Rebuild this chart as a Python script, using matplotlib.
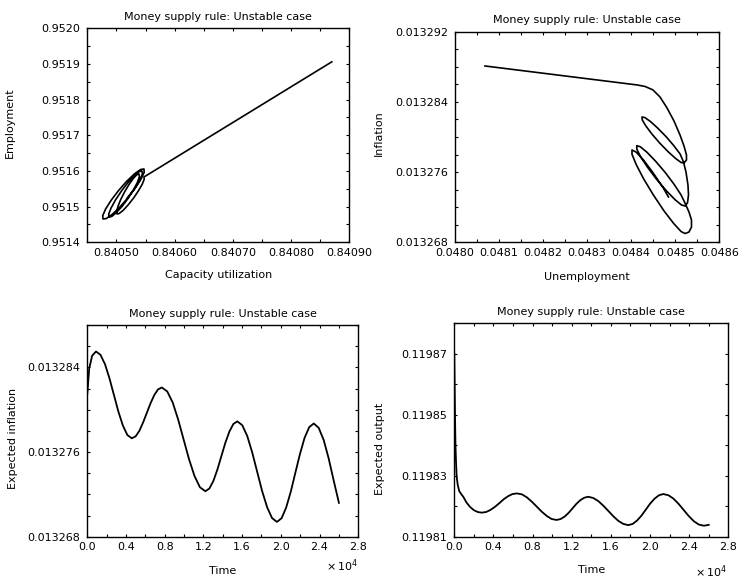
import matplotlib
matplotlib.use('Agg')
import matplotlib.pyplot as plt
from matplotlib.ticker import FixedLocator, FormatStrFormatter

plt.rcParams['font.family'] = ['DejaVu Sans']
plt.rcParams['font.size'] = 8

TITLE = 'Money supply rule: Unstable case'

# ---------------- Panel 1: employment vs capacity utilization ----------------
capacity_utilization = [
    0.840870, 0.8405474,
    0.8405477, 0.8405445, 0.8405381, 0.8405297, 0.8405204, 0.8405117, 0.8405049, 0.8405010,
    0.8405003, 0.8405027, 0.8405075, 0.8405144, 0.8405221, 0.8405294, 0.8405352, 0.8405388,
    0.8405395, 0.8405361, 0.8405292, 0.8405199, 0.8405096, 0.8404996, 0.8404919, 0.8404873,
    0.8404868, 0.8404907, 0.8404984, 0.8405087, 0.8405201, 0.8405307, 0.8405391, 0.8405440,
    0.8405446, 0.8405400, 0.8405309, 0.8405187, 0.8405053, 0.8404926, 0.8404826, 0.8404770,
    0.8404765, 0.8404814, 0.8404911, 0.8405039, 0.8405180, 0.8405312, 0.8405416, 0.8405474,
    0.8405477, 0.8405422, 0.8405317, 0.8405179,
]
employment = [
    0.951906, 0.9515831,
    0.9515767, 0.9515632, 0.9515450, 0.9515245, 0.9515052, 0.9514897, 0.9514808, 0.9514794,
    0.9514861, 0.9515007, 0.9515203, 0.9515422, 0.9515632, 0.9515797, 0.9515898, 0.9515915,
    0.9515837, 0.9515680, 0.9515467, 0.9515228, 0.9515004, 0.9514827, 0.9514723, 0.9514709,
    0.9514791, 0.9514956, 0.9515186, 0.9515438, 0.9515680, 0.9515870, 0.9515982, 0.9515999,
    0.9515910, 0.9515730, 0.9515489, 0.9515225, 0.9514976, 0.9514780, 0.9514666, 0.9514653,
    0.9514746, 0.9514931, 0.9515181, 0.9515455, 0.9515716, 0.9515921, 0.9516041, 0.9516055,
    0.9515960, 0.9515769, 0.9515511, 0.9515225,
]
cu_major = [0.84050, 0.84060, 0.84070, 0.84080, 0.84090]
cu_minor = [0.84045, 0.84055, 0.84065, 0.84075, 0.84085]
emp_major = [0.9514, 0.9515, 0.9516, 0.9517, 0.9518, 0.9519, 0.9520]
emp_minor = [0.95145, 0.95155, 0.95165, 0.95175, 0.95185, 0.95195]

# ---------------- Panel 2: inflation vs unemployment ----------------
unemployment = [
    0.0480681, 0.0484132, 0.0484313, 0.0484495, 0.0484654, 0.0484813,
    0.0484972, 0.0485108, 0.0485199, 0.0485255, 0.0485255, 0.0485199,
    0.0485133, 0.0485006, 0.0484835, 0.0484647, 0.0484470, 0.0484331,
    0.0484252, 0.0484245,
    0.0484311, 0.0484438, 0.0484608, 0.0484797, 0.0484974, 0.0485112,
    0.0485187, 0.0485244, 0.0485289, 0.0485301, 0.0485278, 0.0485221,
    0.0485142, 0.0484992, 0.0484794, 0.0484574, 0.0484374, 0.0484216,
    0.0484129, 0.0484125,
    0.0484204, 0.0484354, 0.0484552, 0.0484772, 0.0484972, 0.0485130,
    0.0485221, 0.0485312, 0.0485369, 0.0485369, 0.0485312, 0.0485221,
    0.0485132, 0.0484965, 0.0484742, 0.0484504, 0.0484281, 0.0484113,
    0.0484019, 0.0484018,
    0.0484108, 0.0484277, 0.0484497, 0.0484735, 0.0484847,
]
inflation = [
    0.01328809, 0.01328593, 0.01328576, 0.01328536, 0.01328456, 0.01328331,
    0.01328182, 0.01328023, 0.01327897, 0.01327795, 0.01327738, 0.01327704,
    0.01327709, 0.01327756, 0.01327834, 0.01327931, 0.01328034, 0.01328127,
    0.01328194, 0.01328228,
    0.01328221, 0.01328176, 0.01328098, 0.01328001, 0.01327897, 0.01327805,
    0.01327715, 0.01327601, 0.01327453, 0.01327339, 0.01327248, 0.01327214,
    0.01327225, 0.01327287, 0.01327390, 0.01327519, 0.01327653, 0.01327772,
    0.01327860, 0.01327901,
    0.01327889, 0.01327828, 0.01327725, 0.01327596, 0.01327462, 0.01327342,
    0.01327248, 0.01327145, 0.01327054, 0.01326974, 0.01326917, 0.01326900,
    0.01326923, 0.01327014, 0.01327160, 0.01327339, 0.01327524, 0.01327687,
    0.01327802, 0.01327852,
    0.01327829, 0.01327739, 0.01327592, 0.01327413, 0.01327316,
]
u_major = [0.0480, 0.0481, 0.0482, 0.0483, 0.0484, 0.0485, 0.0486]
u_minor = [0.04805, 0.04815, 0.04825, 0.04835, 0.04845, 0.04855]
inf_major = [0.013268, 0.013276, 0.013284, 0.013292]
inf_minor = [0.013270, 0.013272, 0.013274, 0.013278, 0.013280, 0.013282,
             0.013286, 0.013288, 0.013290]

# ---------------- Panel 3: expected inflation vs time (x 10^4) ----------------
time_ei = [
    0.00, 0.02, 0.05, 0.09, 0.136, 0.183, 0.229, 0.275, 0.321, 0.368, 0.414,
    0.46, 0.499, 0.538, 0.576, 0.615, 0.654, 0.693, 0.731, 0.77, 0.826, 0.883,
    0.939, 0.995, 1.051, 1.108, 1.164, 1.22, 1.261, 1.303, 1.344, 1.385, 1.426,
    1.468, 1.509, 1.55, 1.601, 1.653, 1.704, 1.755, 1.806, 1.858, 1.909, 1.96,
    2.008, 2.055, 2.103, 2.15, 2.198, 2.245, 2.293, 2.34, 2.391, 2.443, 2.494,
    2.545, 2.60,
]
expected_inflation = [
    0.01328150, 0.01328390, 0.01328510, 0.01328550, 0.01328519, 0.01328430,
    0.01328297, 0.01328140, 0.01327983, 0.01327850, 0.01327761, 0.01327730,
    0.01327748, 0.01327800, 0.01327878, 0.01327970, 0.01328062, 0.01328140,
    0.01328192, 0.01328210, 0.01328173, 0.01328067, 0.01327907, 0.01327720,
    0.01327533, 0.01327373, 0.01327267, 0.01327230, 0.01327255, 0.01327327,
    0.01327434, 0.01327560, 0.01327686, 0.01327793, 0.01327865, 0.01327890,
    0.01327854, 0.01327751, 0.01327597, 0.01327415, 0.01327233, 0.01327079,
    0.01326976, 0.01326940, 0.01326975, 0.01327076, 0.01327227, 0.01327405,
    0.01327583, 0.01327734, 0.01327835, 0.01327870, 0.01327829, 0.01327713,
    0.01327540, 0.01327335, 0.01327120,
]
time_major = [0.0, 0.4, 0.8, 1.2, 1.6, 2.0, 2.4, 2.8]
time_minor = [0.2, 0.6, 1.0, 1.4, 1.8, 2.2, 2.6]
ei_major = [0.013268, 0.013276, 0.013284]
ei_minor = [0.013270, 0.013272, 0.013274, 0.013278, 0.013280, 0.013282,
            0.013286, 0.013288]

# ---------------- Panel 4: expected output vs time (x 10^4) ----------------
time_eo = [
    0.000, 0.004, 0.008, 0.012, 0.017, 0.024, 0.035, 0.05, 0.07, 0.092, 0.125,
    0.16, 0.2, 0.24, 0.28, 0.325, 0.37, 0.415, 0.46, 0.505, 0.55, 0.595, 0.64,
    0.691, 0.742, 0.792, 0.843, 0.894, 0.945, 0.995, 1.046, 1.086, 1.127,
    1.167, 1.208, 1.248, 1.288, 1.329, 1.369, 1.42, 1.471, 1.522, 1.574,
    1.625, 1.676, 1.727, 1.778, 1.823, 1.867, 1.912, 1.957, 2.002, 2.047,
    2.091, 2.136, 2.188, 2.239, 2.291, 2.343, 2.395, 2.447, 2.498, 2.55, 2.60,
]
expected_output = [
    0.1198700, 0.1198580, 0.1198480, 0.1198400, 0.1198350, 0.1198297,
    0.1198270, 0.1198250, 0.1198240, 0.1198231, 0.1198212, 0.1198198,
    0.1198187, 0.1198181, 0.1198179, 0.1198181, 0.1198188, 0.1198198,
    0.1198210, 0.1198223, 0.1198233, 0.1198240, 0.1198242, 0.1198239,
    0.1198229, 0.1198215, 0.11981985, 0.1198182, 0.1198168, 0.1198158,
    0.1198155, 0.1198158, 0.1198166, 0.1198178, 0.1198193, 0.1198208,
    0.1198220, 0.1198228, 0.1198231, 0.1198227, 0.1198217, 0.1198202,
    0.11981845, 0.1198167, 0.1198152, 0.1198142, 0.1198138, 0.1198142,
    0.1198153, 0.1198169, 0.1198189, 0.1198209, 0.1198225, 0.1198236,
    0.1198240, 0.1198236, 0.1198225, 0.1198208, 0.1198188, 0.1198168,
    0.1198151, 0.1198140, 0.1198136, 0.1198139,
]
eo_major = [0.11981, 0.11983, 0.11985, 0.11987]
eo_minor = [0.11982, 0.11984, 0.11986, 0.11988]


def style(ax, xlim, ylim, xmaj, xmin, ymaj, ymin, xfmt, yfmt):
    ax.set_xlim(*xlim)
    ax.set_ylim(*ylim)
    ax.xaxis.set_major_locator(FixedLocator(xmaj))
    ax.xaxis.set_minor_locator(FixedLocator(xmin))
    ax.yaxis.set_major_locator(FixedLocator(ymaj))
    ax.yaxis.set_minor_locator(FixedLocator(ymin))
    ax.xaxis.set_major_formatter(xfmt)
    ax.yaxis.set_major_formatter(yfmt)
    ax.tick_params(which='both', direction='in', top=True, right=True,
                   length=2.5, width=0.8, labelsize=8)
    ax.tick_params(axis='x', which='both', pad=4)
    ax.tick_params(axis='y', which='both', pad=5)
    for s in ax.spines.values():
        s.set_linewidth(1.0)
    ax.set_title(TITLE, fontsize=8, pad=6)


fig = plt.figure(figsize=(7.41, 5.82), dpi=100)

# Panel 1
ax1 = fig.add_axes([0.1178, 0.5837, 0.3536, 0.3677])
ax1.plot(capacity_utilization, employment, color='black', lw=1.2)
style(ax1, (0.84045, 0.84090), (0.9514, 0.9520), cu_major, cu_minor,
      emp_major, emp_minor, FormatStrFormatter('%.5f'), FormatStrFormatter('%.4f'))
ax1.set_xlabel('Capacity utilization', fontsize=8)
ax1.set_ylabel('Employment', fontsize=8)
ax1.xaxis.set_label_coords(0.5, -0.13)
ax1.yaxis.set_label_coords(-0.275, 0.56)

# Panel 2
ax2 = fig.add_axes([0.614, 0.5837, 0.3567, 0.3619])
ax2.plot(unemployment, inflation, color='black', lw=1.2)
style(ax2, (0.0480, 0.0486), (0.013268, 0.013292), u_major, u_minor,
      inf_major, inf_minor, FormatStrFormatter('%.4f'), FormatStrFormatter('%.6f'))
ax2.set_xlabel('Unemployment', fontsize=8)
ax2.set_ylabel('Inflation', fontsize=8)
ax2.xaxis.set_label_coords(0.5, -0.14)
ax2.yaxis.set_label_coords(-0.27, 0.52)

# Panel 3
ax3 = fig.add_axes([0.1178, 0.0778, 0.3657, 0.3637])
ax3.plot(time_ei, expected_inflation, color='black', lw=1.3)
style(ax3, (0.0, 2.8), (0.013268, 0.013288), time_major, time_minor,
      ei_major, ei_minor, FormatStrFormatter('%.1f'), FormatStrFormatter('%.6f'))
ax3.set_xlabel('Time', fontsize=8)
ax3.set_ylabel('Expected inflation', fontsize=8)
ax3.xaxis.set_label_coords(0.5, -0.14)
ax3.yaxis.set_label_coords(-0.255, 0.465)
ax3.text(1.0, -0.135, r'$\times\,10^{4}$', transform=ax3.transAxes,
         ha='right', va='center', fontsize=8)

# Panel 4
ax4 = fig.add_axes([0.6131, 0.0778, 0.3698, 0.3667])
ax4.plot(time_eo, expected_output, color='black', lw=1.3)
style(ax4, (0.0, 2.8), (0.11981, 0.11988), time_major, time_minor,
      eo_major, eo_minor, FormatStrFormatter('%.1f'), FormatStrFormatter('%.5f'))
ax4.set_xlabel('Time', fontsize=8)
ax4.set_ylabel('Expected output', fontsize=8)
ax4.xaxis.set_label_coords(0.5, -0.133)
ax4.yaxis.set_label_coords(-0.253, 0.41)
ax4.text(0.995, -0.165, r'$\times\,10^{4}$', transform=ax4.transAxes,
         ha='right', va='center', fontsize=8)

fig.savefig('out.png', dpi=100)
